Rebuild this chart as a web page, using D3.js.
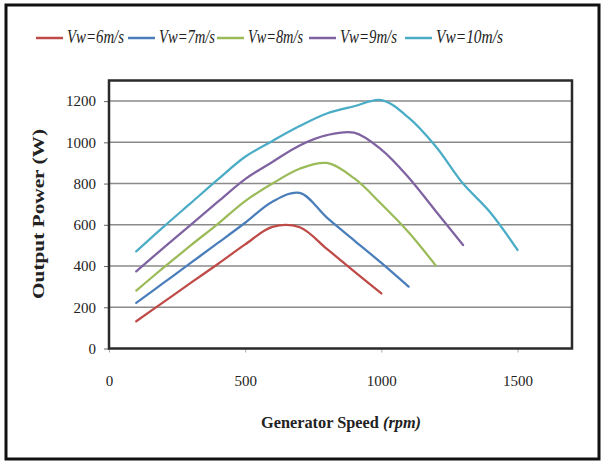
<!DOCTYPE html>
<meta charset="utf-8">
<title>Output power vs generator speed</title>
<script src="https://d3js.org/d3.v7.min.js"></script>
<style>
  body { margin: 0; background: #fff; }
  svg text { font-family: "Liberation Serif", "Times New Roman", serif; fill: #222; }
</style>
<body>
<script>
    // generator speed (rpm) at each measured point
    let speedRpm = [100, 200, 300, 400, 500, 600, 700, 800, 900, 1000, 1100, 1200, 1300, 1400, 1500];
    // output power (W) for each wind speed
    let p6  = [132, 225, 318, 410, 505, 590, 588, 483, 374, 267];
    let p7  = [221, 318, 415, 512, 610, 712, 755, 635, 525, 415, 300];
    let p8  = [281, 392, 500, 605, 715, 800, 872, 900, 826, 701, 564, 402];
    let p9  = [374, 488, 600, 712, 822, 905, 985, 1035, 1047, 965, 830, 666, 502];
    let p10 = [471, 590, 705, 820, 930, 1007, 1079, 1140, 1175, 1205, 1120, 980, 800, 660, 478];
    let seriesNames = ["Vw=6m/s", "Vw=7m/s", "Vw=8m/s", "Vw=9m/s", "Vw=10m/s"];
    let xTicks = [0, 500, 1000, 1500];
    let yTicks = [0, 200, 400, 600, 800, 1000, 1200];

    let colors = ["#be4b48", "#4a7ebb", "#9bbb59", "#7f63a1", "#4bacc6"];
    let allSeries = [p6, p7, p8, p9, p10].map((vals, i) => ({
        name: seriesNames[i],
        color: colors[i],
        points: vals.map((v, j) => ({ rpm: speedRpm[j], w: v }))
    }));

    let svg = d3.select("body").append("svg").attr("width", 605).attr("height", 464);

    // outer frame
    svg.append("rect").attr("x", 6).attr("y", 5).attr("width", 593).attr("height", 454)
        .attr("fill", "#fff").attr("stroke", "#111").attr("stroke-width", 3);

    let x = d3.scaleLinear().domain([0, 1700]).range([109, 572]);
    let y = d3.scaleLinear().domain([0, 1300]).range([348.5, 80.5]);

    // gridlines
    svg.append("g").selectAll("line")
        .data(yTicks.filter(d => d > 0))
        .enter().append("line")
        .attr("x1", x(0)).attr("x2", x(1700))
        .attr("y1", d => y(d)).attr("y2", d => y(d))
        .attr("stroke", "#8a8a8a").attr("stroke-width", 1.5);

    // y axis ticks + labels
    let yAxis = svg.append("g").attr("transform", `translate(${x(0)},0)`)
        .call(d3.axisLeft(y).tickValues(yTicks).tickFormat(d3.format("d")).tickSize(5).tickPadding(8));
    yAxis.select(".domain").remove();
    yAxis.selectAll("line").attr("stroke", "#666");
    yAxis.selectAll("text").attr("font-size", 15).attr("fill", "#333");

    // x axis ticks + labels
    let xAxis = svg.append("g").attr("transform", `translate(0,${y(0)})`)
        .call(d3.axisBottom(x).tickValues(xTicks).tickFormat(d3.format("d")).tickSize(4).tickPadding(23));
    xAxis.select(".domain").remove();
    xAxis.selectAll("line").attr("stroke", "#aaa");
    xAxis.selectAll("text").attr("font-size", 15).attr("fill", "#333");

    // series lines (smoothed like the spreadsheet original)
    let line = d3.line().x(d => x(d.rpm)).y(d => y(d.w)).curve(d3.curveCatmullRom.alpha(0.5));
    svg.append("g").selectAll("path")
        .data(allSeries)
        .enter().append("path")
        .attr("d", d => line(d.points))
        .attr("fill", "none")
        .attr("stroke", d => d.color)
        .attr("stroke-width", 2.25)
        .attr("stroke-linecap", "round");

    // plot area border
    svg.append("rect").attr("x", x(0)).attr("y", y(1300))
        .attr("width", x(1700) - x(0)).attr("height", y(0) - y(1300))
        .attr("fill", "none").attr("stroke", "#2a2a2a").attr("stroke-width", 2.5);

    // axis titles
    svg.append("text").attr("x", 341).attr("y", 428).attr("text-anchor", "middle")
        .attr("font-size", 16).attr("font-weight", "bold")
        .attr("textLength", 160).attr("lengthAdjust", "spacingAndGlyphs")
        .text("Generator Speed ")
        .append("tspan").attr("font-style", "italic").text("(rpm)");

    svg.append("text").attr("transform", "translate(44,214) rotate(-90)")
        .attr("text-anchor", "middle").attr("font-size", 16).attr("font-weight", "bold")
        .attr("textLength", 170).attr("lengthAdjust", "spacingAndGlyphs")
        .text("Output Power (W)");

    // legend
    let legendX = [36, 128, 217, 309, 405];
    let legendW = [57, 56, 55, 57, 67];
    let lg = svg.append("g").selectAll("g")
        .data(allSeries)
        .enter().append("g")
        .attr("transform", (d, i) => `translate(${legendX[i]},38)`);
    lg.append("line").attr("x1", 0).attr("x2", 27).attr("y1", 0).attr("y2", 0)
        .attr("stroke", d => d.color).attr("stroke-width", 2.5);
    lg.append("text").attr("x", 31).attr("y", 5)
        .attr("font-size", 18).attr("font-style", "italic")
        .attr("textLength", (d, i) => legendW[i]).attr("lengthAdjust", "spacingAndGlyphs")
        .text(d => d.name);
</script>
</body>
